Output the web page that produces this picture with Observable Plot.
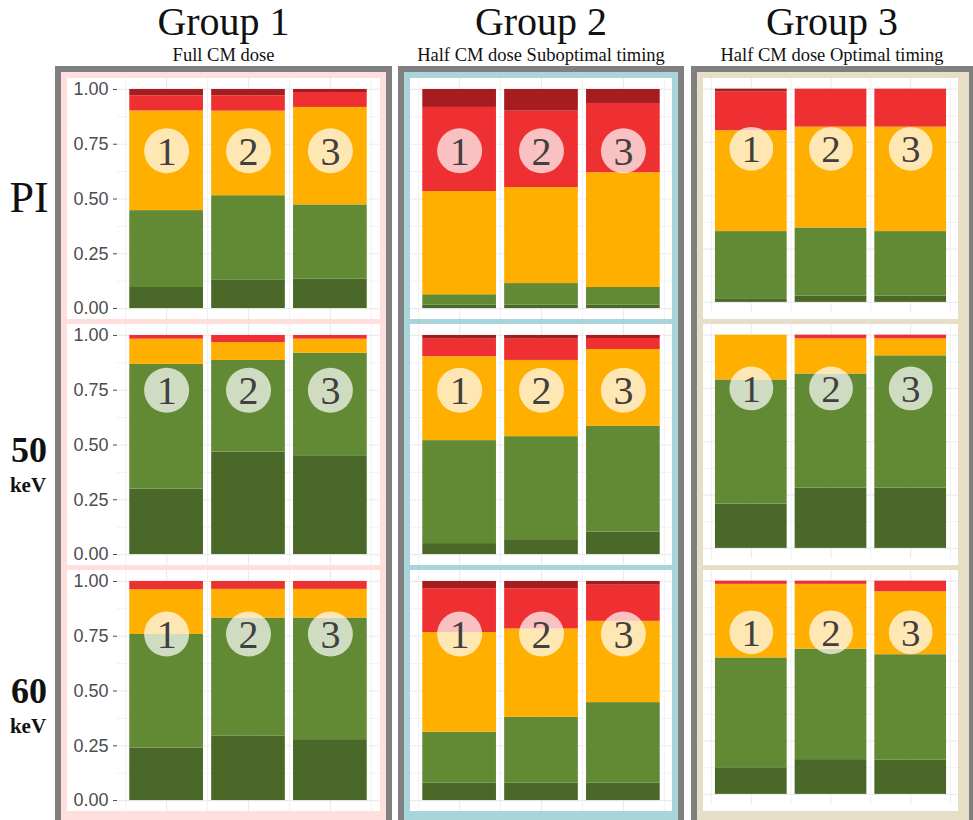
<!DOCTYPE html>
<html>
<head>
<meta charset="utf-8">
<script src="https://cdn.jsdelivr.net/npm/d3@7"></script>
<script src="https://cdn.jsdelivr.net/npm/@observablehq/plot@0.6"></script>
<style>
html, body { margin: 0; padding: 0; background: #fff; }
#root { position: relative; width: 973px; height: 820px; overflow: hidden; }
.box { position: absolute; box-sizing: border-box; border: 6px solid #808080; }
.panel { position: absolute; background: #fff; overflow: hidden; }
.panel svg { display: block; }
#labels { position: absolute; left: 0; top: 0; }
</style>
</head>
<body>
<div id="root"></div>
<script>
// ---------------- data ----------------
const groups = ["Group 1", "Group 2", "Group 3"];
const groupSubtitles = ["Full CM dose", "Half CM dose Suboptimal timing", "Half CM dose Optimal timing"];
const rowLabels = [["PI", ""], ["50", "keV"], ["60", "keV"]];
const readers = [1, 2, 3];
const levels = ["5", "4", "3", "2", "1"];           // bottom (best) -> top (worst)
const levelColors = ["#4a6928", "#628a35", "#ffaf00", "#ef3033", "#a51d1f"];
const groupColors = ["#ffdede", "#a9d5da", "#e6dec6"];
const yTicks = [0, 0.25, 0.5, 0.75, 1];
const yMinor = [0.125, 0.375, 0.625, 0.875];
const xMinor = [0.5, 1.5, 2.5, 3.5];

// shares of each level per reader: [group][reader][level 5..1]
const sharesPI = [
  [[0.096, 0.351, 0.455, 0.069, 0.029], [0.131, 0.384, 0.386, 0.070, 0.029], [0.134, 0.339, 0.445, 0.068, 0.014]],
  [[0.015, 0.048, 0.471, 0.384, 0.082], [0.015, 0.099, 0.438, 0.349, 0.099], [0.015, 0.081, 0.524, 0.316, 0.064]],
  [[0.017, 0.315, 0.473, 0.183, 0.012], [0.030, 0.319, 0.473, 0.178, 0.000], [0.030, 0.302, 0.490, 0.178, 0.000]]
];
const shares50 = [
  [[0.299, 0.569, 0.115, 0.017, 0.000], [0.468, 0.418, 0.081, 0.033, 0.000], [0.451, 0.468, 0.064, 0.017, 0.000]],
  [[0.050, 0.470, 0.383, 0.080, 0.017], [0.068, 0.470, 0.348, 0.097, 0.017], [0.102, 0.483, 0.351, 0.050, 0.014]],
  [[0.208, 0.582, 0.210, 0.000, 0.000], [0.283, 0.535, 0.165, 0.017, 0.000], [0.283, 0.620, 0.080, 0.017, 0.000]]
];
const shares60 = [
  [[0.239, 0.519, 0.204, 0.038, 0.000], [0.295, 0.538, 0.131, 0.036, 0.000], [0.278, 0.555, 0.131, 0.036, 0.000]],
  [[0.079, 0.233, 0.455, 0.200, 0.033], [0.079, 0.301, 0.403, 0.184, 0.033], [0.079, 0.368, 0.371, 0.165, 0.017]],
  [[0.125, 0.515, 0.345, 0.015, 0.000], [0.163, 0.518, 0.304, 0.015, 0.000], [0.160, 0.495, 0.295, 0.050, 0.000]]
];
const rowsData = [sharesPI, shares50, shares60];

// ---------------- layout ----------------
const serif = "'Liberation Serif', 'DejaVu Serif', serif";
const sans = "'Liberation Sans', Arial, sans-serif";
const boxes = [
  {left: 55, width: 337, panelLeft: 67, panelWidth: 313, plotWidth: 313, marginLeft: 50, marginRight: 1, axis: true},
  {left: 398, width: 286, panelLeft: 410, panelWidth: 262, plotWidth: 262, marginLeft: 0, marginRight: 0, axis: false},
  {left: 691, width: 284, panelLeft: 703, panelWidth: 255, plotWidth: 262, marginLeft: 0, marginRight: 0, axis: false}
];
const rowTops = [78, 324, 570];
const rowHeight = 241;
const markerY = [0.72, 0.75, 0.76];

const root = document.getElementById("root");

boxes.forEach((b, g) => {
  const box = document.createElement("div");
  box.className = "box";
  Object.assign(box.style, {left: b.left + "px", top: "66px", width: b.width + "px", height: "770px", background: groupColors[g]});
  root.appendChild(box);

  rowsData.forEach((shares, r) => {
    const recs = [];
    readers.forEach((reader, i) => {
      let cum = 0;
      levels.forEach((lev, k) => {
        const v = shares[g][i][k];
        recs.push({reader, level: lev, y1: cum, y2: cum + v});
        cum += v;
      });
    });
    const recsNZ = recs.filter(d => d.y2 - d.y1 > 0);

    const chart = Plot.plot({
      width: b.plotWidth,
      height: rowHeight,
      marginLeft: b.marginLeft,
      marginRight: b.marginRight,
      marginTop: 0,
      marginBottom: 0,
      style: {fontSize: "18px", fontFamily: sans, color: "#4d4d4d", background: "transparent", overflow: "visible"},
      x: {domain: [0.4, 3.6], axis: null},
      y: b.axis
        ? {domain: [-0.05, 1.05], ticks: yTicks, tickFormat: d3.format(".2f"), tickSize: 4, label: null}
        : {domain: [-0.05, 1.05], axis: null},
      color: {domain: levels, range: levelColors},
      marks: [
        Plot.ruleY(yMinor, {stroke: "#f1f1f1", strokeWidth: 1}),
        Plot.ruleY(yTicks, {stroke: "#ebebeb", strokeWidth: 1.2}),
        Plot.ruleX(xMinor, {stroke: "#f1f1f1", strokeWidth: 1}),
        Plot.ruleX(readers, {stroke: "#ebebeb", strokeWidth: 1.2}),
        Plot.rect(recsNZ, {x1: d => d.reader - 0.45, x2: d => d.reader + 0.45, y1: "y1", y2: "y2", fill: "level"}),
        Plot.dot(readers, {x: d => d, y: () => markerY[r], r: 22.5, fill: "#ffffff", fillOpacity: 0.7}),
        Plot.text(readers, {x: d => d, y: () => markerY[r], text: d => String(d), fontSize: 40, fontFamily: serif, fill: "#404040", dy: 1})
      ]
    });
    const panel = document.createElement("div");
    panel.className = "panel";
    Object.assign(panel.style, {left: b.panelLeft + "px", top: rowTops[r] + "px", width: b.panelWidth + "px", height: rowHeight + "px"});
    panel.appendChild(chart);
    root.appendChild(panel);
  });
});

// ---------------- text labels ----------------
const svgNS = "http://www.w3.org/2000/svg";
const svg = document.createElementNS(svgNS, "svg");
svg.setAttribute("id", "labels");
svg.setAttribute("width", 973);
svg.setAttribute("height", 820);
function addText(str, x, y, size, weight, anchor) {
  const t = document.createElementNS(svgNS, "text");
  t.setAttribute("x", x);
  t.setAttribute("y", y);
  t.setAttribute("font-size", size);
  t.setAttribute("font-family", serif);
  t.setAttribute("font-weight", weight || "normal");
  t.setAttribute("text-anchor", anchor || "middle");
  t.setAttribute("fill", "#111");
  t.textContent = str;
  svg.appendChild(t);
}
const groupCenters = boxes.map((b, g) => g === 2 ? 832 : b.left + b.width / 2);
groups.forEach((name, g) => {
  addText(name, groupCenters[g], 35, 40);
  addText(groupSubtitles[g], groupCenters[g], 61, 18.5);
});
const rowLabelY = [[212, null], [462, 492], [703, 733]];
rowLabels.forEach((lab, r) => {
  if (lab[1]) {
    addText(lab[0], 29, rowLabelY[r][0], 36, "bold");
    addText(lab[1], 28, rowLabelY[r][1], 21, "bold");
  } else {
    addText(lab[0], 29, rowLabelY[r][0], 44);
  }
});
root.appendChild(svg);
</script>
</body>
</html>
